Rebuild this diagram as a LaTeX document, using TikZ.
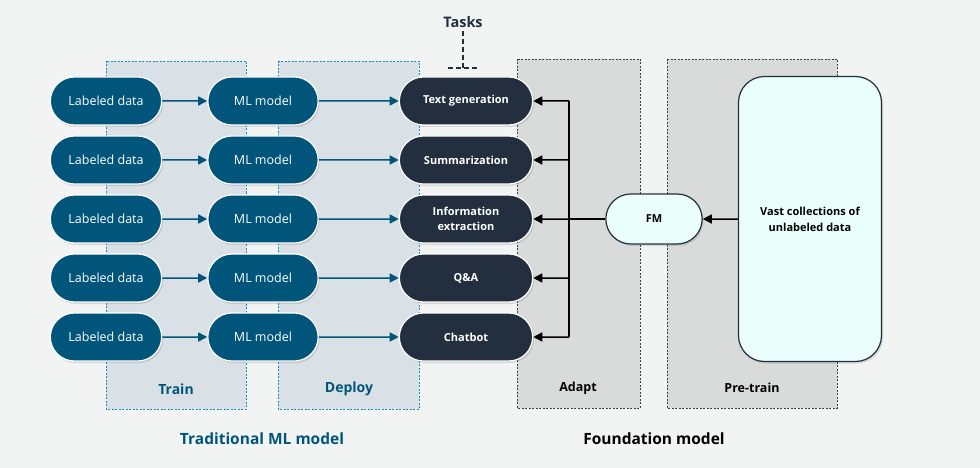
\documentclass[tikz,border=0pt]{standalone}
\usepackage{fontspec}
\setmainfont{Open Sans}
\usetikzlibrary{arrows.meta,shapes.misc,shadows,positioning}
\definecolor{bgcol}{HTML}{F2F3F3}
\definecolor{mlblue}{HTML}{01557A}
\definecolor{navy}{HTML}{232F3E}
\definecolor{stageblue}{HTML}{DAE1E6}
\definecolor{dotblue}{HTML}{1B8CB8}
\definecolor{stagegray}{HTML}{D9DADA}
\definecolor{fmcyan}{HTML}{EAFFFC}
\begin{document}
\begin{tikzpicture}[x=1pt,y=-1pt,>={Triangle[length=9pt,width=9pt]},
                font=\fontsize{12.5}{15}\selectfont,
                pill/.style={rounded rectangle,draw=white,line width=1.2pt,
                  minimum height=48pt,text=white,
                  drop shadow={shadow xshift=1.5pt,shadow yshift=-2pt,opacity=0.25}},
                data node/.style={pill,fill=mlblue,minimum width=118pt},
                model node/.style={pill,fill=mlblue,minimum width=117pt},
                task node/.style={pill,fill=navy,minimum width=140pt,font=\fontsize{11}{15}\selectfont\bfseries,align=center},
                stage/.style={fill=stageblue,draw=dotblue,line width=0.9pt,dash pattern=on 2pt off 1.5pt},
                fm stage/.style={fill=stagegray,draw=black!75,line width=0.9pt,dash pattern=on 2pt off 1.5pt},
                blue arrow/.style={->,draw=mlblue,line width=1.5pt},
                black arrow/.style={->,draw=black,line width=1.5pt}]
  \fill[bgcol] (0,0) rectangle (980,468);
  \useasboundingbox (0,0) rectangle (980,468);

  % stage boxes
  \draw[stage] (106,61) rectangle (246,409);
  \draw[stage] (278,61) rectangle (419,409);
  \draw[fm stage] (517,59) rectangle (640,408);
  \draw[fm stage] (667,59) rectangle (837,408);

  \node[font=\fontsize{14}{16}\selectfont\bfseries,text=mlblue] (train) at (176,389) {Train};
  \node[font=\fontsize{14}{16}\selectfont\bfseries,text=mlblue] (deploy) at (349,389) {Deploy};
  \node[font=\fontsize{12.5}{15}\selectfont\bfseries,text=black] (adapt) at (578,388) {Adapt};
  \node[font=\fontsize{12.5}{15}\selectfont\bfseries,text=black] (pretrain) at (752,388) {Pre-train};
  \node[font=\fontsize{15.5}{18}\selectfont\bfseries,text=mlblue] (trad) at (262,439) {Traditional ML model};
  \node[font=\fontsize{15.5}{18}\selectfont\bfseries,text=black] (found) at (654,439) {Foundation model};

  % tasks label
  \node[font=\fontsize{14.5}{17}\selectfont\bfseries,text=navy] (tasks) at (463,22) {Tasks};
  \coordinate (brk) at (463,68);
  \draw[navy,line width=1.5pt,dash pattern=on 5pt off 3pt] (tasks) -- (brk);
  \draw[navy,line width=1.5pt,dash pattern=on 5pt off 3pt] ([xshift=-15pt]brk) -- ([xshift=15pt]brk);

  % traditional rows
  \node[data node] (d1) at (106,101) {Labeled data};
  \node[data node] (d2) at (106,160) {Labeled data};
  \node[data node] (d3) at (106,219) {Labeled data};
  \node[data node] (d4) at (106,278) {Labeled data};
  \node[data node] (d5) at (106,337) {Labeled data};

  \node[model node] (m1) at (263,101) {ML model};
  \node[model node] (m2) at (263,160) {ML model};
  \node[model node] (m3) at (263,219) {ML model};
  \node[model node] (m4) at (263,278) {ML model};
  \node[model node] (m5) at (263,337) {ML model};

  \node[task node] (t1) at (466,101) {Text generation};
  \node[task node] (t2) at (466,160) {Summarization};
  \node[task node] (t3) at (466,219) {Information\\extraction};
  \node[task node] (t4) at (466,278) {Q\&A};
  \node[task node] (t5) at (466,337) {Chatbot};

  % foundation model
  \node[pill,draw=navy,fill=fmcyan,text=black,minimum width=103pt,minimum height=50pt,
        font=\fontsize{11}{13}\selectfont\bfseries] (fm) at (654,219) {FM};
  \node[draw=navy,line width=1.2pt,fill=fmcyan,rounded corners=26pt,minimum width=143pt,
        minimum height=285pt,align=center,font=\fontsize{11}{16}\selectfont\bfseries,
        drop shadow={shadow xshift=1.5pt,shadow yshift=-2pt,opacity=0.25}] (vast) at (810,219)
        {Vast collections of\\unlabeled data};
  \coordinate (bus) at (569,219);

  \path
    (d1) edge[blue arrow] (m1) (m1) edge[blue arrow] (t1)
    (d2) edge[blue arrow] (m2) (m2) edge[blue arrow] (t2)
    (d3) edge[blue arrow] (m3) (m3) edge[blue arrow] (t3)
    (d4) edge[blue arrow] (m4) (m4) edge[blue arrow] (t4)
    (d5) edge[blue arrow] (m5) (m5) edge[blue arrow] (t5)
  ;
  \draw[line width=1.5pt] (bus |- t1) -- (bus |- t5);
  \draw[line width=1.5pt] (fm) -- (bus);
  \path
    (vast) edge[black arrow] (fm)
    (bus |- t1) edge[black arrow] (t1)
    (bus |- t2) edge[black arrow] (t2)
    (bus |- t3) edge[black arrow] (t3)
    (bus |- t4) edge[black arrow] (t4)
    (bus |- t5) edge[black arrow] (t5)
  ;
\end{tikzpicture}
\end{document}
